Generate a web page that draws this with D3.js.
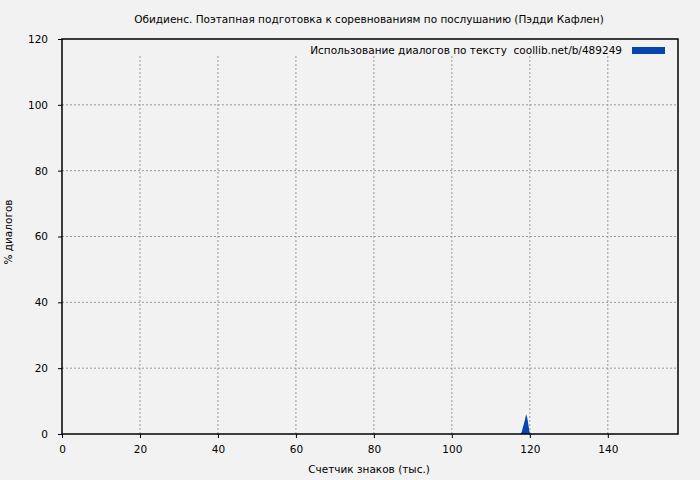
<!DOCTYPE html>
<html>
<meta charset="UTF-8">

<head>
  <script src="https://cdn.jsdelivr.net/npm/d3@7"></script>
  <style>
    body { margin: 0; background: #f2f2f2; }
    text { font-family: "DejaVu Sans", sans-serif; font-size: 10.5px; fill: #000; }
  </style>
</head>

<body>
  <svg id="chart" width="700" height="480"></svg>

  <script type="text/javascript">
    const title = "Обидиенс. Поэтапная подготовка к соревнованиям по послушанию (Пэдди Кафлен)"
    const legendLabel = "Использование диалогов по тексту  coollib.net/b/489249"
    const xLabel = "Счетчик знаков (тыс.)"
    const yLabel = "% диалогов"

    // thousands of characters / percent of dialogue
    const xValues = [117.6, 117.9, 118.2, 118.5, 118.8, 119.05, 119.3, 119.5, 119.7, 119.9, 120.1]
    const yValues = [0, 0.6, 2.0, 3.2, 4.6, 6.0, 5.0, 3.8, 2.2, 0.7, 0]

    const xTicks = [0, 20, 40, 60, 80, 100, 120, 140]
    const yTicks = [0, 20, 40, 60, 80, 100, 120]

    const svg = d3.select("#chart")
    const plotL = 62, plotR = 678, plotT = 39, plotB = 434

    const x = d3.scaleLinear().domain([0, 158]).range([plotL, plotR])
    const y = d3.scaleLinear().domain([0, 120]).range([plotB, plotT])

    svg.append("rect").attr("width", 700).attr("height", 480).attr("fill", "#f2f2f2")

    // grid
    svg.append("g")
      .selectAll("line")
      .data(xTicks.filter(d => d > 0))
      .enter()
      .append("line")
      .attr("x1", d => x(d)).attr("x2", d => x(d))
      .attr("y1", plotB).attr("y2", 56)
      .style("stroke", "#999").style("stroke-dasharray", "2,2")

    svg.append("g")
      .selectAll("line")
      .data(yTicks.filter(d => d > 0 && d < 120))
      .enter()
      .append("line")
      .attr("x1", plotL).attr("x2", plotR)
      .attr("y1", d => y(d)).attr("y2", d => y(d))
      .style("stroke", "#999").style("stroke-dasharray", "2,2")

    // data
    const pts = xValues.map((v, i) => [v, yValues[i]])
    svg.append("path")
      .datum(pts)
      .attr("d", d3.area().x(d => x(d[0])).y0(y(0)).y1(d => y(d[1])))
      .style("fill", "#0645ad")

    // axes
    svg.append("g")
      .attr("transform", `translate(0,${plotB})`)
      .call(d3.axisBottom(x).tickValues(xTicks).tickSize(4).tickPadding(8))
    svg.append("g")
      .attr("transform", `translate(${plotL},0)`)
      .call(d3.axisLeft(y).tickValues(yTicks).tickSize(4).tickPadding(10))
    svg.selectAll(".domain").remove()
    svg.selectAll(".tick line").style("stroke", "#000")
    svg.selectAll(".tick text").style("font-family", "DejaVu Sans").style("font-size", "10.5px")

    svg.append("rect")
      .attr("x", plotL).attr("y", plotT)
      .attr("width", plotR - plotL).attr("height", plotB - plotT)
      .style("fill", "none").style("stroke", "#000").style("stroke-width", 1.5)

    // legend
    svg.append("text")
      .attr("x", 622).attr("y", 54)
      .style("text-anchor", "end")
      .style("white-space", "pre")
      .attr("xml:space", "preserve")
      .text(legendLabel)
    svg.append("rect")
      .attr("x", 632).attr("y", 47).attr("width", 33).attr("height", 7)
      .style("fill", "#0645ad")

    // titles
    svg.append("text")
      .attr("x", 369).attr("y", 23)
      .style("text-anchor", "middle")
      .text(title)
    svg.append("text")
      .attr("x", 369).attr("y", 473)
      .style("text-anchor", "middle")
      .text(xLabel)
    svg.append("text")
      .attr("transform", "translate(12,232) rotate(-90)")
      .style("text-anchor", "middle")
      .text(yLabel)
  </script>
</body>

</html>
